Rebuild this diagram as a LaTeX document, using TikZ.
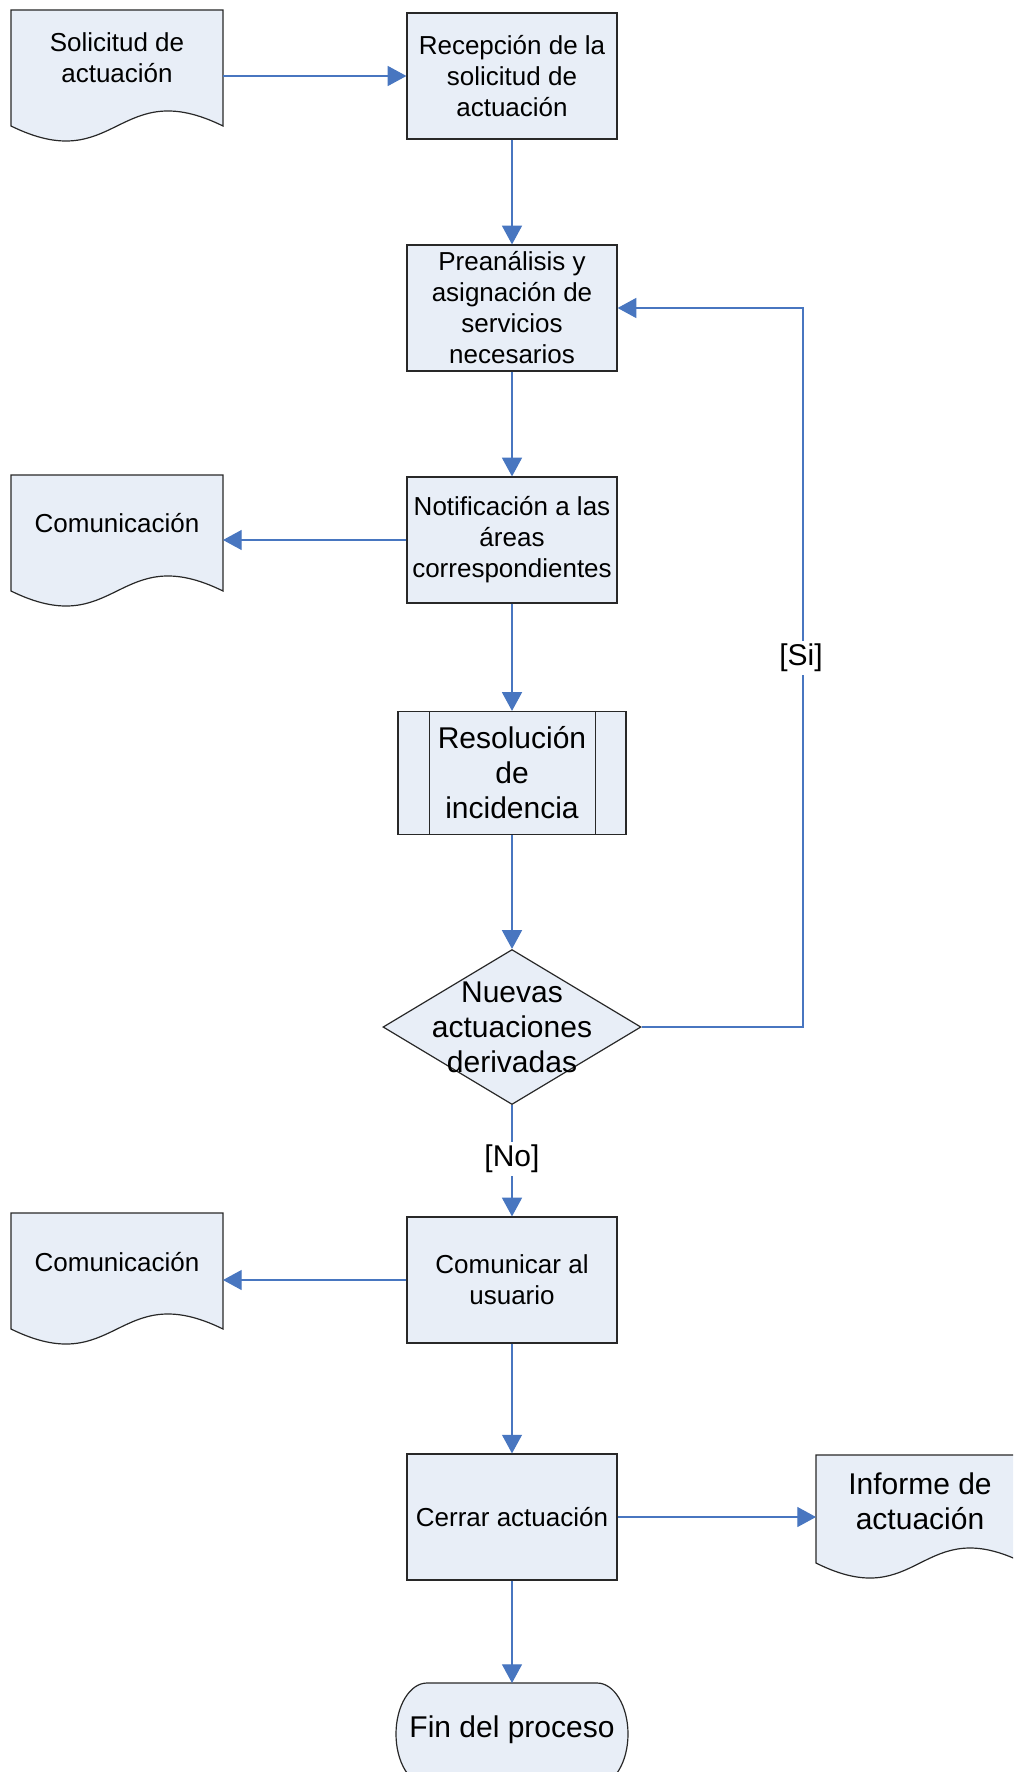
\documentclass[tikz,border=0pt]{standalone}
\usepackage{fontspec}
\setmainfont{Liberation Sans}
\usetikzlibrary{arrows.meta,calc,shapes.geometric}
\newdimen\px \px=0.75pt
\definecolor{shapefill}{RGB}{232,238,247}
\definecolor{flowblue}{RGB}{72,118,192}
\definecolor{edgegray}{RGB}{40,40,40}
\newcommand\fsmall{\fontsize{19.5pt}{23.25pt}\selectfont}
\newcommand\flarge{\fontsize{22.5pt}{26.25pt}\selectfont}
\newcommand\drawdoc[1]{\path[docline] (#1.north west) -- (#1.south west) .. controls ($(#1.south)+(0,52)$) and ($(#1.south)+(0,-52)$) .. (#1.south east) -- (#1.north east) -- cycle;}
\begin{document}
\begin{tikzpicture}[x=0.75pt,y=-0.75pt,
  box/.style={draw=edgegray, line width=0.9pt, fill=shapefill, minimum width=210\px, minimum height=126\px, inner sep=0pt, align=center, font=\fsmall},
  docbox/.style={minimum width=212\px, minimum height=116\px, inner sep=0pt, outer sep=0pt},
  docline/.style={draw=edgegray, line width=0.9pt, fill=shapefill},
  doctext/.style={align=center, font=\fsmall, inner sep=0pt},
  flow/.style={draw=flowblue, line width=0.9pt, -{Triangle[length=14pt,width=15pt]}},
  lbl/.style={fill=white, font=\flarge, inner sep=2pt}]
\useasboundingbox (0,0) rectangle (1013,1772);
\clip (0,0) rectangle (1013,1772);

% documents
\node[docbox] (sol) at (117,68) {};
\drawdoc{sol}
\node[doctext] (soltext) at ([yshift=7.5pt]sol.center) {Solicitud de\\actuación};

\node[docbox] (com1) at (117,533) {};
\drawdoc{com1}
\node[doctext] (com1text) at ([yshift=7.5pt]com1.center) {Comunicación};

\node[docbox] (com2) at (117,1271) {};
\drawdoc{com2}
\node[doctext] (com2text) at ([yshift=7pt]com2.center) {Comunicación};

\node[docbox, minimum width=208\px, minimum height=108\px] (inf) at (920,1509) {};
\drawdoc{inf}
\node[doctext, font=\flarge] (inftext) at ([yshift=6pt]inf.center) {Informe de\\actuación};

% process boxes
\node[box] (rec) at (512,76) {Recepción de la\\solicitud de\\actuación};
\node[box] (pre) at (512,308) {Preanálisis y\\asignación de\\servicios\\necesarios};
\node[box] (notif) at (512,540) {Notificación a las\\áreas\\correspondientes};
\node[box, minimum width=228\px, minimum height=123\px, font=\flarge] (res) at (512,773) {Resolución\\de\\incidencia};
\draw[edgegray, line width=0.9pt] ($(res.north west)+(32,0)$) -- ($(res.south west)+(32,0)$)
  ($(res.north east)+(-31,0)$) -- ($(res.south east)+(-31,0)$);
\node[diamond, draw=edgegray, line width=0.9pt, fill=shapefill, minimum width=258\px, minimum height=155\px, inner sep=0pt] (dec) at (512,1027) {};
\node[align=center, font=\flarge, inner sep=0pt] (dectext) at (dec.center) {Nuevas\\actuaciones\\derivadas};
\node[box] (comu) at (512,1280) {Comunicar al\\usuario};
\node[box] (cer) at (512,1517) {Cerrar actuación};

% terminator with elliptical ends
\node[minimum width=232\px, minimum height=102\px, inner sep=0pt, outer sep=0pt] (fin) at (512,1734) {};
\path[docline] ($(fin.north west)+(31,0)$) -- ($(fin.north east)+(-31,0)$)
  arc[start angle=90, end angle=-90, x radius=23.25pt, y radius=38.25pt]
  -- ($(fin.south west)+(31,0)$)
  arc[start angle=270, end angle=90, x radius=23.25pt, y radius=38.25pt] -- cycle;
\node[font=\flarge, inner sep=0pt] (fintext) at ([yshift=3pt]fin.center) {Fin del proceso};

% connectors
\draw[flow] (sol.east |- rec.west) -- (rec.west);
\draw[flow] (rec.south) -- (pre.north);
\draw[flow] (pre.south) -- (notif.north);
\draw[flow] (notif.west) -- (com1.east |- notif.west);
\draw[flow] (notif.south) -- (res.north);
\draw[flow] (res.south) -- (dec.north);
\coordinate (fb) at (803,1027);
\draw[flow] (dec.east) -- (fb) |- (pre.east);
\node[lbl] (si) at (801,658) {[Si]};
\draw[flow] (dec.south) -- (comu.north);
\node[lbl] (no) at (512,1159) {[No]};
\draw[flow] (comu.west) -- (com2.east |- comu.west);
\draw[flow] (comu.south) -- (cer.north);
\draw[flow] (cer.east) -- (inf.west |- cer.east);
\draw[flow] (cer.south) -- (fin.north);
\end{tikzpicture}
\end{document}
